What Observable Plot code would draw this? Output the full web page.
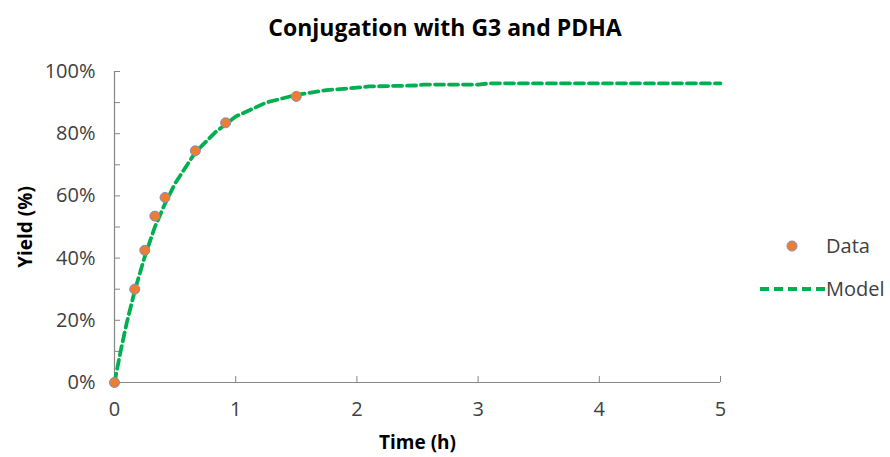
<!DOCTYPE html>
<html>
<head>
<meta charset="utf-8">
<script src="https://cdn.jsdelivr.net/npm/d3@7"></script>
<script src="https://cdn.jsdelivr.net/npm/@observablehq/plot@0.6"></script>
<style>
  body { margin: 0; background: #fff; font-family: "Open Sans", sans-serif; }
  #wrap { position: relative; width: 890px; height: 457px; overflow: hidden; }
  #title { height: 50px; line-height: 54px; text-align: center; font-weight: 700; font-size: 23px; color: #000; }
  #chart svg { display: block; }
  .leg { position: absolute; display: flex; align-items: center; font-size: 20px; color: #404040; }
  .leg svg { display: block; }
</style>
</head>
<body>
<div id="wrap">
  <div id="title">Conjugation with G3 and PDHA</div>
  <div id="chart"></div>
  <div class="leg" id="legData" style="left:780px; top:232px;">
    <svg width="24" height="26"><circle cx="12" cy="13" r="5" fill="#ED7D31" stroke="#7C8EC4" stroke-width="1"></circle></svg>
    <span style="margin-left:22px">Data</span>
  </div>
  <div class="leg" id="legModel" style="left:758px; top:275px;">
    <svg width="68" height="26"><line x1="2" y1="13" x2="68" y2="13" stroke="#00B050" stroke-width="3.8" stroke-dasharray="9,5"></line></svg>
    <span style="margin-left:0px">Model</span>
  </div>
</div>
<script>
// Measured yields (fraction) against reaction time in hours
const dataTime  = [0, 0.167, 0.25, 0.333, 0.417, 0.667, 0.917, 1.5];
const dataYield = [0, 0.30, 0.425, 0.535, 0.595, 0.745, 0.835, 0.92];

// Fitted kinetic model curve
const modelTime  = [0, 0.05, 0.1, 0.167, 0.25, 0.333, 0.417, 0.5, 0.667, 0.833, 1, 1.25, 1.5, 1.75, 2, 2.1, 2.5, 2.55, 3, 3.1, 3.5, 4, 4.5, 5];
const modelYield = [0, 0.10, 0.19, 0.295, 0.405, 0.50, 0.575, 0.64, 0.74, 0.805, 0.855, 0.90, 0.925, 0.94, 0.948, 0.952, 0.955, 0.958, 0.958, 0.962, 0.962, 0.962, 0.962, 0.962];

const xTicks = [0, 1, 2, 3, 4, 5];
const xMinor = [1, 2, 3, 4, 5];
const yTicks = [0, 0.2, 0.4, 0.6, 0.8, 1];
const yMinor = [0, 0.1, 0.2, 0.3, 0.4, 0.5, 0.6, 0.7, 0.8, 0.9, 1];

const points = dataTime.map((t, i) => ({t, v: dataYield[i]}));
const model = modelTime.map((t, i) => ({t, v: modelYield[i]}));

const axisColor = "#868686";

const chart = Plot.plot({
  width: 890,
  height: 407,
  marginLeft: 114,
  marginRight: 170,
  marginTop: 21,
  marginBottom: 75,
  style: { fontFamily: "Open Sans, sans-serif", fontSize: "20px", color: "#404040", background: "#fff" },
  x: { domain: [0, 5] },
  y: { domain: [0, 1] },
  marks: [
    // inward tick marks
    Plot.axisY({ ticks: yMinor, tickSize: -6, tickFormat: () => "", stroke: axisColor, label: null }),
    Plot.axisX({ ticks: xMinor, tickSize: -6, tickFormat: () => "", stroke: axisColor, label: null }),
    // tick labels
    Plot.axisY({ ticks: yTicks, tickSize: 0, tickPadding: 19, tickFormat: d3.format(".0%"), label: null, fill: "#404040" }),
    Plot.axisX({ ticks: xTicks, tickSize: 0, tickPadding: 19, tickFormat: d3.format("d"), label: null, fill: "#404040" }),
    // axis lines
    Plot.ruleX([0], { stroke: axisColor, strokeWidth: 1.2 }),
    Plot.ruleY([0], { stroke: axisColor, strokeWidth: 1.2 }),
    // axis titles
    Plot.text(["Yield (%)"], { frameAnchor: "left", textAnchor: "middle", rotate: -90, dx: -89, fontWeight: "bold", fontSize: 19, fill: "#000" }),
    Plot.text(["Time (h)"], { frameAnchor: "bottom", textAnchor: "middle", dy: 66, fontWeight: "bold", fontSize: 19, fill: "#000" }),
    // model curve
    Plot.line(model, { x: "t", y: "v", stroke: "#00B050", strokeWidth: 3.8, strokeDasharray: "9,5" }),
    // measured points
    Plot.dot(points, { x: "t", y: "v", r: 5, fill: "#ED7D31", stroke: "#7C8EC4", strokeWidth: 1 })
  ]
});
document.getElementById("chart").appendChild(chart);
</script>
</body>
</html>
